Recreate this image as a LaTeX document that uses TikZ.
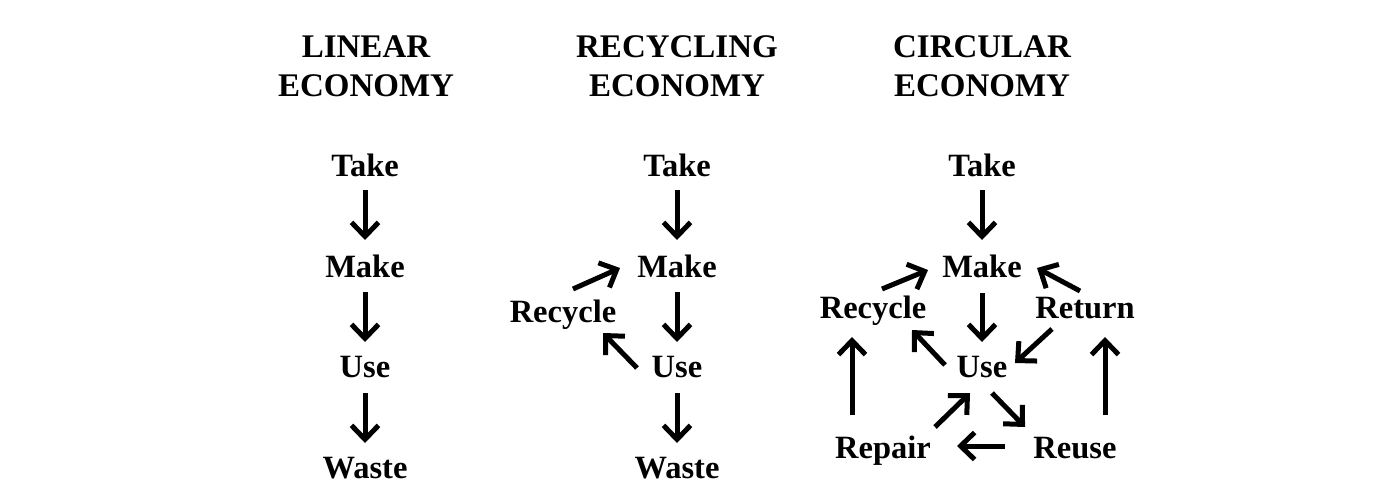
\documentclass[tikz,border=0pt]{standalone}
\usepackage{fontspec}
\setmainfont{Liberation Serif}
\usetikzlibrary{arrows.meta}
\begin{document}
\begin{tikzpicture}[x=1pt,y=-1pt,
  lab/.style={font=\fontsize{32.5}{38}\selectfont\bfseries, inner sep=0pt, outer sep=0pt, anchor=base},
  ttl/.style={font=\fontsize{33}{39}\selectfont\bfseries, inner sep=0pt, outer sep=0pt, anchor=base, align=center},
  arr/.style={line width=5pt, -{Straight Barb[length=14pt,width=27pt]}}]
\useasboundingbox[fill=white] (0,0) rectangle (1380,500);
% titles
\node[ttl] (t1) at (366,97) {LINEAR\\ECONOMY};
\node[ttl] (t2) at (677,97) {RECYCLING\\ECONOMY};
\node[ttl] (t3) at (982,97) {CIRCULAR\\ECONOMY};
% column 1
\node[lab] (a1) at (365,176) {Take};
\node[lab] (a2) at (365,277) {Make};
\node[lab] (a3) at (365,377) {Use};
\node[lab] (a4) at (365,478) {Waste};
\draw[arr] ([shift={(0,14)}]a1.base) -- ([shift={(0,-37)}]a2.base);
\draw[arr] ([shift={(0,15)}]a2.base) -- ([shift={(0,-35)}]a3.base);
\draw[arr] ([shift={(0,16)}]a3.base) -- ([shift={(0,-35)}]a4.base);
% column 2
\node[lab] (b1) at (677,176) {Take};
\node[lab] (b2) at (677,277) {Make};
\node[lab] (b3) at (677,377) {Use};
\node[lab] (b4) at (677,478) {Waste};
\node[lab] (br) at (563,322) {Recycle};
\draw[arr] ([shift={(0,14)}]b1.base) -- ([shift={(0,-37)}]b2.base);
\draw[arr] ([shift={(0,15)}]b2.base) -- ([shift={(0,-35)}]b3.base);
\draw[arr] ([shift={(0,16)}]b3.base) -- ([shift={(0,-35)}]b4.base);
\draw[arr] ([shift={(10,-33)}]br.base) -- ([shift={(-57,-9)}]b2.base);
\draw[arr] ([shift={(-40,-9)}]b3.base) -- ([shift={(40,11)}]br.base);
% column 3
\node[lab] (c1) at (982,176) {Take};
\node[lab] (c2) at (982,277) {Make};
\node[lab] (c3) at (982,377) {Use};
\node[lab] (crc) at (873,318) {Recycle};
\node[lab] (crt) at (1085,318) {Return};
\node[lab] (crp) at (883,458) {Repair};
\node[lab] (cru) at (1075,458) {Reuse};
\draw[arr] ([shift={(0,14)}]c1.base) -- ([shift={(0,-37)}]c2.base);
\draw[arr] ([shift={(0,16)}]c2.base) -- ([shift={(0,-35)}]c3.base);
\draw[arr] ([shift={(9,-29)}]crc.base) -- ([shift={(-54,-7)}]c2.base);
\draw[arr] ([shift={(-5,-27)}]crt.base) -- ([shift={(55,-9)}]c2.base);
\draw[arr] ([shift={(-33,11)}]crt.base) -- ([shift={(33,-14)}]c3.base);
\draw[arr] ([shift={(-37,-12)}]c3.base) -- ([shift={(39,12)}]crc.base);
\draw[arr] ([shift={(-31,-43)}]crp.base) -- ([shift={(-21,19)}]crc.base);
\draw[arr] ([shift={(30,-43)}]cru.base) -- ([shift={(20,19)}]crt.base);
\draw[arr] ([shift={(52,-31)}]crp.base) -- ([shift={(-12,16)}]c3.base);
\draw[arr] ([shift={(10,16)}]c3.base) -- ([shift={(-50,-31)}]cru.base);
\draw[arr] ([shift={(-70,-12)}]cru.base) -- ([shift={(74,-12)}]crp.base);
\end{tikzpicture}
\end{document}
